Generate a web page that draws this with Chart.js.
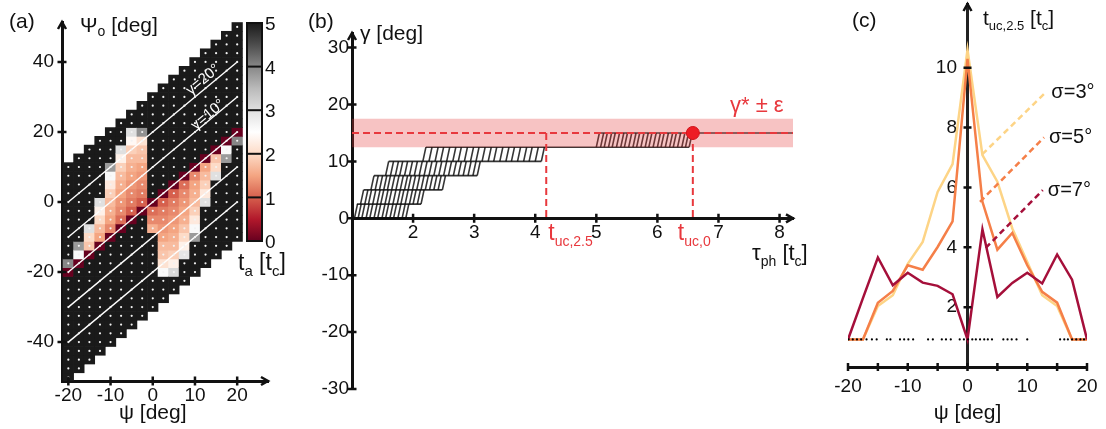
<!DOCTYPE html>
<html>
<head>
<meta charset="utf-8">
<script src="https://cdn.jsdelivr.net/npm/chart.js@4.4.1/dist/chart.umd.min.js"></script>
<style>
  body { margin: 0; background: #fff; }
  #wrap { position: relative; width: 1106px; height: 429px; overflow: hidden; background: #fff; }
  canvas { position: absolute; top: 0; }
</style>
</head>
<body>
<div id="wrap">
  <canvas id="chartA" width="300" height="429" style="left:0px"></canvas>
  <canvas id="chartB" width="520" height="429" style="left:300px"></canvas>
  <canvas id="chartC" width="286" height="429" style="left:820px"></canvas>
</div>
<script>
// ---- panel (a): arrival time map ----
const psiCols = [-20, -17.5, -15, -12.5, -10, -7.5, -5, -2.5, 0, 2.5, 5, 7.5, 10, 12.5, 15, 17.5, 20];
const gammaRows = [-30, -27.5, -25, -22.5, -20, -17.5, -15, -12.5, -10, -7.5, -5, -2.5, 0,
  2.5, 5, 7.5, 10, 12.5, 15, 17.5, 20, 22.5, 25, 27.5, 30];
const taDefault = 5;
// [psi, psi_o, t_a] for cells that are not saturated
const taCells = [
  [-20, -17.5, 4.0], [-20, -20, 0],
  [-17.5, -12.5, 3.8], [-17.5, -15, 2.6], [-17.5, -17.5, 0],
  [-15, -7.5, 3.0], [-15, -10, 2.0], [-15, -12.5, 1.8], [-15, -15, 0],
  [-12.5, 0, 3.0], [-12.5, -2.5, 2.3], [-12.5, -5, 2.0], [-12.5, -7.5, 1.7], [-12.5, -10, 1.5], [-12.5, -12.5, 0],
  [-10, 10, 3.8], [-10, 7.5, 2.6], [-10, 5, 2.2], [-10, 2.5, 1.9], [-10, 0, 1.7], [-10, -2.5, 1.6],
  [-10, -5, 1.5], [-10, -7.5, 1.3], [-10, -10, 0],
  [-7.5, 15, 3.0], [-7.5, 12.5, 2.3], [-7.5, 10, 1.9], [-7.5, 7.5, 1.7], [-7.5, 5, 1.6], [-7.5, 2.5, 1.5],
  [-7.5, 0, 1.4], [-7.5, -2.5, 1.3], [-7.5, -5, 1.1], [-7.5, -7.5, 0],
  [-5, 20, 3.0], [-5, 17.5, 2.4], [-5, 15, 1.9], [-5, 12.5, 1.7], [-5, 10, 1.6], [-5, 7.5, 1.5],
  [-5, 5, 1.4], [-5, 2.5, 1.3], [-5, 0, 1.2], [-5, -2.5, 1.0], [-5, -5, 0],
  [-2.5, 20, 3.9], [-2.5, 17.5, 2.1], [-2.5, 15, 1.8], [-2.5, 12.5, 1.7], [-2.5, 10, 1.5], [-2.5, 7.5, 1.4],
  [-2.5, 5, 1.3], [-2.5, 2.5, 1.2], [-2.5, 0, 1.0], [-2.5, -2.5, 0],
  [0, 0, 0], [0, -2.5, 1.1], [0, -5, 1.3], [0, -7.5, 1.6],
  [2.5, 2.5, 0], [2.5, 0, 1.0], [2.5, -2.5, 1.2], [2.5, -5, 1.3], [2.5, -7.5, 1.4], [2.5, -10, 1.5],
  [2.5, -12.5, 1.7], [2.5, -15, 1.8], [2.5, -17.5, 2.1], [2.5, -20, 2.6],
  [5, 5, 0], [5, 2.5, 1.0], [5, 0, 1.2], [5, -2.5, 1.3], [5, -5, 1.4], [5, -7.5, 1.5], [5, -10, 1.6],
  [5, -12.5, 1.7], [5, -15, 1.9], [5, -17.5, 2.3], [5, -20, 3.1],
  [7.5, 7.5, 0], [7.5, 5, 1.1], [7.5, 2.5, 1.3], [7.5, 0, 1.4], [7.5, -2.5, 1.5], [7.5, -5, 1.6],
  [7.5, -7.5, 1.8], [7.5, -10, 2.0], [7.5, -12.5, 2.3], [7.5, -15, 2.9],
  [10, 10, 0], [10, 7.5, 1.3], [10, 5, 1.5], [10, 2.5, 1.6], [10, 0, 1.7], [10, -2.5, 1.9],
  [10, -5, 2.2], [10, -7.5, 2.6], [10, -10, 3.8],
  [12.5, 12.5, 0], [12.5, 10, 1.5], [12.5, 7.5, 1.7], [12.5, 5, 1.9], [12.5, 2.5, 2.2], [12.5, 0, 3.0],
  [15, 15, 0], [15, 12.5, 1.8], [15, 10, 2.0], [15, 7.5, 3.0],
  [17.5, 17.5, 0], [17.5, 15, 2.6], [17.5, 12.5, 3.8],
  [20, 20, 0], [20, 17.5, 4.0]
];
const gammaLines = [20, 10, 0, -10, -20];
const gammaLabels = ['γ=20°', 'γ=10°'];
const gammaLabelPsi = [11.9, 13.1];
const gammaLabelPsiO = [34.9, 24.9];
const cbarTicks = [0, 1, 2, 3, 4, 5];

// ---- panel (b): gamma vs time ----
const stepLevels = [0, 2.5, 5, 7.5, 10, 12.5, 15];
const levelFrom = [1.0, 1.08, 1.19, 1.36, 1.6, 2.21, 5.04];
const levelTo = [1.88, 2.13, 2.48, 3.05, 4.1, 6.52, 8.22];
const jumpTimes = [
  [1.04, 1.1, 1.16, 1.23, 1.29, 1.36, 1.42, 1.49, 1.55, 1.62, 1.68, 1.75, 1.82, 1.88],
  [1.14, 1.21, 1.27, 1.34, 1.41, 1.47, 1.54, 1.6, 1.67, 1.74, 1.8, 1.87, 1.94, 2.0, 2.07, 2.13],
  [1.31, 1.38, 1.45, 1.52, 1.58, 1.65, 1.72, 1.79, 1.86, 1.92, 1.99, 2.06, 2.13, 2.2, 2.27, 2.34, 2.41, 2.48],
  [1.55, 1.63, 1.71, 1.78, 1.86, 1.94, 2.02, 2.1, 2.18, 2.26, 2.34, 2.42, 2.5, 2.58, 2.66, 2.74, 2.82, 2.9, 2.98, 3.05],
  [2.16, 2.26, 2.36, 2.45, 2.55, 2.65, 2.74, 2.84, 2.94, 3.03, 3.13, 3.23, 3.32, 3.42, 3.52, 3.61, 3.71, 3.81, 3.9, 4.0, 4.1],
  [5.0, 5.07, 5.13, 5.2, 5.26, 5.33, 5.4, 5.46, 5.53, 5.6, 5.66, 5.73, 5.8, 5.86, 5.93, 6.0, 6.06, 6.13,
    6.2, 6.26, 6.33, 6.4, 6.46, 6.52]
];
const jumpSlant = 0.05;
const gammaStar = 15;
const epsilon = 2.5;
const tUc25 = 4.18;
const tUc0 = 6.58;

// ---- panel (c): t_uc,2.5 vs psi ----
const psiC = [-20, -17.5, -15, -12.5, -10, -7.5, -5, -2.5, 0, 2.5, 5, 7.5, 10, 12.5, 15, 17.5, 20];
const tSigma3 = [0.92, 0.92, 2.04, 2.4, 3.45, 4.18, 5.85, 6.78, 10.6, 7.08, 6.19, 4.63, 3.51, 2.4, 2.04, 0.92, 0.92];
const tSigma5 = [0.92, 0.92, 2.15, 2.54, 3.4, 3.25, 4.01, 4.87, 10.3, 5.52, 3.92, 4.48, 3.4, 2.51, 2.15, 0.92, 0.92];
const tSigma7 = [0.92, 2.3, 3.66, 2.73, 3.15, 2.82, 2.71, 2.43, 0.92, 4.6, 2.34, 2.81, 3.15, 2.79, 3.76, 2.92, 0.92];
const floorLevel = 0.92;
const floorDots = [-19.9, -19.2, -18.5, -17.8, -16.9, -16.0, -15.2, -13.5, -12.9, -11.3, -10.6, -9.9, -9.1,
  -6.6, -5.8, -4.3, -3.6, -2.8, -1.3, -0.6, 0.1, 0.8, 1.4, 2.1, 2.8, 3.4, 4.1, 6.0, 6.7, 7.4, 8.2, 10.0,
  15.5, 16.2, 16.8, 17.5, 18.2, 18.9, 19.5];
const sigmaNames = ['σ=3°', 'σ=5°', 'σ=7°'];
const leaderFrom = [[2.48, 7.11], [2.09, 5.52], [3.05, 3.98]];
const leaderTo = [[13.2, 9.2], [12.8, 7.67], [12.6, 5.91]];

// ---- styling ----
const FONT = '"Liberation Sans", Arial, Helvetica, sans-serif';
const INK = '#111';
const RED = '#e8383d';
const TICK_FONT = 19;
const sigmaColors = ['#fdd486', '#f57f48', '#a50f3a'];
const cmapStops = ['#67001f', '#b2182b', '#d6604d', '#f4a582', '#fddbc7', '#ffffff',
  '#e0e0e0', '#bababa', '#878787', '#4d4d4d', '#1a1a1a'];

Chart.defaults.font.family = FONT;
Chart.defaults.color = INK;
Chart.defaults.animation = false;
Chart.defaults.events = [];
Chart.defaults.plugins.legend.display = false;
Chart.defaults.plugins.tooltip.enabled = false;

function hexRgb(h) {
  return [parseInt(h.slice(1, 3), 16), parseInt(h.slice(3, 5), 16), parseInt(h.slice(5, 7), 16)];
}
function cmap(v) {
  const t = Math.max(0, Math.min(1, v / 5)) * (cmapStops.length - 1);
  const i = Math.min(Math.floor(t), cmapStops.length - 2);
  const f = t - i;
  const a = hexRgb(cmapStops[i]), b = hexRgb(cmapStops[i + 1]);
  return 'rgb(' + a.map((c, k) => Math.round(c + (b[k] - c) * f)).join(',') + ')';
}

function fixBox(w, h) {
  return s => {
    if (w !== null) s.width = w;
    if (h !== null) s.height = h;
    s.paddingLeft = s.paddingRight = s.paddingTop = s.paddingBottom = 0;
  };
}

function txt(ctx, parts, x, y, align, color) {
  ctx.save();
  ctx.fillStyle = color || INK;
  ctx.textBaseline = 'alphabetic';
  ctx.textAlign = 'left';
  let w = 0;
  parts.forEach(p => { ctx.font = p[1] + 'px ' + FONT; w += ctx.measureText(p[0]).width; });
  let cx = align === 'center' ? x - w / 2 : x;
  parts.forEach(p => {
    ctx.font = p[1] + 'px ' + FONT;
    ctx.fillText(p[0], cx, y + (p[2] || 0));
    cx += ctx.measureText(p[0]).width;
  });
  ctx.restore();
}

function axisPixel(chart, scale) {
  const pos = scale.options.position;
  const a = chart.chartArea;
  if (typeof pos === 'object') {
    const id = Object.keys(pos)[0];
    return chart.scales[id].getPixelForValue(pos[id]);
  }
  return { left: a.left, right: a.right, top: a.top, bottom: a.bottom }[pos];
}

function crossTicks(chart, len) {
  const ctx = chart.ctx;
  ctx.save();
  ctx.strokeStyle = INK;
  ctx.lineWidth = 2.5;
  Object.values(chart.scales).forEach(s => {
    const p = axisPixel(chart, s);
    ctx.beginPath();
    s.ticks.forEach(t => {
      const v = s.getPixelForValue(t.value);
      if (s.isHorizontal()) { ctx.moveTo(v, p - len); ctx.lineTo(v, p + len); }
      else { ctx.moveTo(p - len, v); ctx.lineTo(p + len, v); }
    });
    ctx.stroke();
  });
  ctx.restore();
}

function chevron(ctx, x, y, dir) {
  ctx.save();
  ctx.strokeStyle = INK;
  ctx.lineWidth = 2.5;
  ctx.beginPath();
  if (dir === 'up') { ctx.moveTo(x - 4, y + 7); ctx.lineTo(x, y); ctx.lineTo(x + 4, y + 7); }
  else { ctx.moveTo(x - 7, y - 4); ctx.lineTo(x, y); ctx.lineTo(x - 7, y + 4); }
  ctx.stroke();
  ctx.restore();
}

function axisBase(extra) {
  return Object.assign({
    type: 'linear',
    offset: false,
    grid: { display: false, drawTicks: false },
    border: { display: true, color: INK, width: 3 }
  }, extra);
}

// ================= panel (a) =================
const taLookup = {};
taCells.forEach(c => { taLookup[c[0] + '|' + c[1]] = c[2]; });
const cells = [];
psiCols.forEach(psi => {
  gammaRows.forEach(g => {
    const psio = psi + g;
    const v = taLookup[psi + '|' + psio];
    cells.push({ psi: psi, psio: psio, ta: v === undefined ? taDefault : v });
  });
});
const halfCell = 1.25;

const decoA = {
  id: 'decoA',
  afterDraw(chart) {
    const ctx = chart.ctx;
    const a = chart.chartArea;
    const xs = chart.scales.x, ys = chart.scales.y;
    crossTicks(chart, 4.5);
    chevron(ctx, a.left, a.top, 'up');
    chevron(ctx, a.right, a.bottom, 'right');

    // gamma labels along the lines
    const ang = Math.atan2(ys.getPixelForValue(10) - ys.getPixelForValue(0),
      xs.getPixelForValue(10) - xs.getPixelForValue(0));
    gammaLabels.forEach((lab, i) => {
      ctx.save();
      ctx.translate(xs.getPixelForValue(gammaLabelPsi[i]), ys.getPixelForValue(gammaLabelPsiO[i]));
      ctx.rotate(ang);
      ctx.font = '15px ' + FONT;
      ctx.fillStyle = '#fff';
      ctx.textAlign = 'center';
      ctx.textBaseline = 'middle';
      ctx.fillText(lab, 0, 0);
      ctx.restore();
    });

    // colour bar
    const cb = { x: 247, y: 23, w: 15, h: 218 };
    const g = ctx.createLinearGradient(0, cb.y + cb.h, 0, cb.y);
    cmapStops.forEach((c, i) => g.addColorStop(i / (cmapStops.length - 1), c));
    ctx.save();
    ctx.fillStyle = g;
    ctx.fillRect(cb.x, cb.y, cb.w, cb.h);
    ctx.strokeStyle = INK;
    ctx.lineWidth = 2;
    ctx.strokeRect(cb.x, cb.y, cb.w, cb.h);
    ctx.font = TICK_FONT + 'px ' + FONT;
    ctx.fillStyle = INK;
    ctx.textBaseline = 'middle';
    ctx.textAlign = 'left';
    cbarTicks.forEach(v => {
      const y = cb.y + cb.h - v / 5 * cb.h;
      ctx.beginPath();
      ctx.moveTo(cb.x, y);
      ctx.lineTo(cb.x + cb.w, y);
      ctx.stroke();
      ctx.fillText(String(v), cb.x + cb.w + 3, y + 2);
    });
    ctx.restore();

    txt(ctx, [['(a)', 21]], 9, 28);
    txt(ctx, [['Ψ', 21], ['o', 14, 4], [' [deg]', 21]], 80, 32);
    txt(ctx, [['ψ [deg]', 21]], xs.getPixelForValue(0), 419, 'center');
    txt(ctx, [['t', 23], ['a', 15, 6], [' [t', 23], ['c', 15, 6], [']', 23]], 238, 270);
  }
};

new Chart(document.getElementById('chartA'), {
  type: 'bar',
  data: {
    datasets: [
      {
        type: 'scatter',
        data: cells.map(c => ({ x: c.psi, y: c.psio })),
        pointRadius: 1.1,
        backgroundColor: '#f2f2f2',
        borderWidth: 0
      },
      ...gammaLines.map(c => ({
        type: 'line',
        data: [{ x: -20, y: -20 + c }, { x: 20, y: 20 + c }],
        borderColor: '#ffffff',
        borderWidth: 1.4,
        pointRadius: 0
      })),
      {
        type: 'bar',
        data: cells.map(c => ({ x: c.psi, y: [c.psio - halfCell, c.psio + halfCell] })),
        backgroundColor: cells.map(c => cmap(c.ta)),
        borderWidth: 0,
        barPercentage: 1,
        categoryPercentage: 1
      }
    ]
  },
  options: {
    responsive: false,
    layout: { padding: { top: 22, right: 32, bottom: 0, left: 0 } },
    scales: {
      x: axisBase({
        position: 'bottom', min: -21.5, max: 27.3, z: 1,
        ticks: { stepSize: 10, includeBounds: false, padding: 3, autoSkip: false, maxRotation: 0, font: { size: TICK_FONT } },
        afterFit: fixBox(null, 48)
      }),
      y: axisBase({
        position: 'left', min: -51.1, max: 51.4, z: 1,
        ticks: { stepSize: 20, includeBounds: false, padding: 8, autoSkip: false, font: { size: TICK_FONT } },
        afterFit: fixBox(62, null)
      })
    }
  },
  plugins: [decoA]
});

// ================= panel (b) =================
const OX_B = 300;
const stairColor = 'rgba(10,10,10,0.82)';
const levelData = [];
stepLevels.forEach((L, i) => {
  levelData.push({ x: levelFrom[i], y: L }, { x: levelTo[i], y: L }, { x: levelTo[i], y: null });
});
const jumpSets = jumpTimes.map((times, i) => {
  const d = [];
  times.forEach(t => {
    d.push({ x: t, y: stepLevels[i] }, { x: t + jumpSlant, y: stepLevels[i + 1] }, { x: t + jumpSlant, y: null });
  });
  return d;
});

const decoB = {
  id: 'decoB',
  afterDraw(chart) {
    const ctx = chart.ctx;
    const a = chart.chartArea;
    const xs = chart.scales.x, ys = chart.scales.y;
    crossTicks(chart, 4.5);
    chevron(ctx, a.left, a.top, 'up');
    chevron(ctx, a.right, ys.getPixelForValue(0), 'right');
    txt(ctx, [['(b)', 21]], 308 - OX_B, 28);
    txt(ctx, [['γ [deg]', 21]], 360 - OX_B, 40);
    txt(ctx, [['γ* ± ε', 22]], 730 - OX_B, 112, 'left', RED);
    txt(ctx, [['t', 23], ['uc,2.5', 14, 6]], xs.getPixelForValue(tUc25) + 2, 240, 'left', RED);
    txt(ctx, [['t', 23], ['uc,0', 14, 6]], xs.getPixelForValue(tUc0) - 15, 240, 'left', RED);
    txt(ctx, [['τ', 22], ['ph', 14, 6], [' [t', 22], ['c', 14, 6], [']', 22]], 752 - OX_B, 260);
  }
};

new Chart(document.getElementById('chartB'), {
  type: 'line',
  data: {
    datasets: [
      {
        data: [{ x: tUc0, y: gammaStar }],
        showLine: false,
        pointRadius: 6.5,
        backgroundColor: '#ee1c24',
        borderColor: '#d0141b',
        borderWidth: 1
      },
      {
        data: [{ x: 1, y: gammaStar }, { x: 8.22, y: gammaStar }, { x: 8.22, y: null },
          { x: tUc25, y: gammaStar }, { x: tUc25, y: 0 }, { x: tUc25, y: null },
          { x: tUc0, y: gammaStar }, { x: tUc0, y: 0 }],
        borderColor: RED,
        borderWidth: 2,
        borderDash: [7, 4],
        pointRadius: 0
      },
      {
        data: [{ x: 1, y: gammaStar + epsilon }, { x: 8.22, y: gammaStar + epsilon }],
        fill: { value: gammaStar - epsilon },
        backgroundColor: 'rgba(228,60,60,0.31)',
        borderWidth: 0,
        pointRadius: 0
      },
      {
        data: levelData,
        borderColor: stairColor,
        borderWidth: 1.6,
        pointRadius: 0
      },
      ...jumpSets.map(d => ({
        data: d,
        borderColor: stairColor,
        borderWidth: 1.6,
        pointRadius: 0
      }))
    ]
  },
  options: {
    responsive: false,
    spanGaps: false,
    layout: { padding: { top: 33, right: 27, bottom: 40, left: 0 } },
    scales: {
      x: axisBase({
        position: { y: 0 }, min: 1, max: 8.22,
        ticks: { stepSize: 1, includeBounds: false, padding: 3, autoSkip: false, maxRotation: 0, font: { size: TICK_FONT } },
        afterBuildTicks: s => { s.ticks = s.ticks.filter(t => t.value > 1); },
        afterFit: fixBox(null, null)
      }),
      y: axisBase({
        position: 'left', min: -30, max: 32.57,
        ticks: { stepSize: 10, includeBounds: false, padding: 3, autoSkip: false, font: { size: TICK_FONT } },
        afterFit: fixBox(52, null)
      })
    }
  },
  plugins: [decoB]
});

// ================= panel (c) =================
const OX_C = 820;
const decoC = {
  id: 'decoC',
  afterDraw(chart) {
    const ctx = chart.ctx;
    const a = chart.chartArea;
    const xs = chart.scales.x, ys = chart.scales.y;
    crossTicks(chart, 4);
    chevron(ctx, xs.getPixelForValue(0), a.top, 'up');
    txt(ctx, [['(c)', 21]], 852 - OX_C, 27);
    txt(ctx, [['t', 21], ['uc,2.5', 13, 5], [' [t', 21], ['c', 13, 5], [']', 21]], 983 - OX_C, 25);
    txt(ctx, [['ψ [deg]', 21]], xs.getPixelForValue(0), 419, 'center');
    sigmaNames.forEach((n, i) => {
      txt(ctx, [[n, 20]], xs.getPixelForValue(leaderTo[i][0]) + 5, ys.getPixelForValue(leaderTo[i][1]) + 6);
    });
  }
};

const sigmaSeries = [tSigma7, tSigma5, tSigma3];
const sigmaOrderColors = [sigmaColors[2], sigmaColors[1], sigmaColors[0]];

new Chart(document.getElementById('chartC'), {
  type: 'line',
  data: {
    datasets: [
      {
        data: floorDots.map(p => ({ x: p, y: floorLevel })),
        showLine: false,
        pointRadius: 1.1,
        backgroundColor: '#000',
        borderWidth: 0
      },
      ...leaderFrom.map((f, i) => ({
        data: [{ x: f[0], y: f[1] }, { x: leaderTo[i][0], y: leaderTo[i][1] }],
        borderColor: sigmaColors[i],
        borderWidth: 2.5,
        borderDash: [6, 4],
        pointRadius: 0
      })),
      ...sigmaSeries.map((s, i) => ({
        data: psiC.map((p, k) => ({ x: p, y: s[k] })),
        borderColor: sigmaOrderColors[i],
        borderWidth: 2.5,
        pointRadius: 0,
        tension: 0
      }))
    ]
  },
  options: {
    responsive: false,
    layout: { padding: { top: 4, right: 19, bottom: 0, left: 28 } },
    scales: {
      x: axisBase({
        position: 'bottom', min: -20, max: 20,
        ticks: {
          stepSize: 5, includeBounds: false, padding: 8, autoSkip: false, maxRotation: 0, minRotation: 0,
          font: { size: TICK_FONT },
          callback: v => (v % 10 === 0 ? String(v) : '')
        },
        afterFit: fixBox(null, 62)
      }),
      y: axisBase({
        position: { x: 0 }, min: 0, max: 12.13,
        border: { display: true, color: '#222', width: 3 },
        ticks: { stepSize: 2, includeBounds: false, autoSkip: false, font: { size: TICK_FONT }, callback: v => v + '  ' },
        afterBuildTicks: s => { s.ticks = s.ticks.filter(t => t.value >= 2 && t.value <= 10); },
        afterFit: fixBox(null, null)
      })
    }
  },
  plugins: [decoC]
});
</script>
</body>
</html>
